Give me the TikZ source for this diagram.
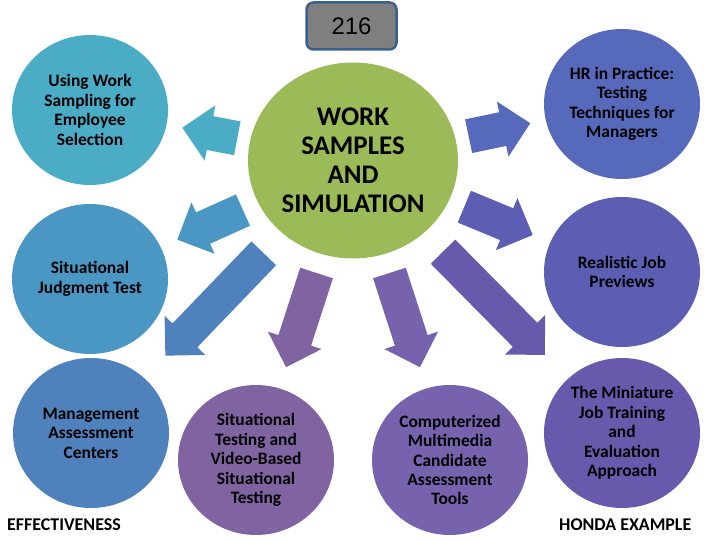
\documentclass[tikz,border=0pt]{standalone}
\usepackage{fontspec}
\setmainfont{Carlito}
\newfontfamily\numfont{Liberation Sans}
\usetikzlibrary{shapes.geometric,shapes.arrows}

\definecolor{hubgreen}{HTML}{9BBB59}
\definecolor{colA}{HTML}{4BACC6}
\definecolor{colB}{HTML}{4A97C4}
\definecolor{colC}{HTML}{4F81BD}
\definecolor{colD}{HTML}{8064A2}
\definecolor{colE}{HTML}{7662AD}
\definecolor{colF}{HTML}{6859AD}
\definecolor{colG}{HTML}{5B5EB3}
\definecolor{colH}{HTML}{5669BB}
\definecolor{numgray}{HTML}{7F7F7F}
\definecolor{numedge}{HTML}{3B5E8C}

\tikzset{
  topic/.style={ellipse, minimum width=156bp, minimum height=150bp, inner sep=0pt,
    align=center, font=\fontsize{17.5}{19.5}\selectfont\bfseries},
  hubnode/.style={ellipse, fill=hubgreen, minimum width=210bp, minimum height=196bp,
    inner sep=0pt, align=center, font=\fontsize{27}{29}\selectfont\bfseries},
  blockarrow/.style={single arrow, single arrow head extend=11bp, minimum width=0pt,
    inner xsep=0pt, inner ysep=17bp, sloped, allow upside down, anchor=tip},
  footnote/.style={inner sep=0pt, font=\fontsize{18}{20}\selectfont\bfseries}
}

\begin{document}
\begin{tikzpicture}[x=1bp,y=-1bp]
  \useasboundingbox (0,0) rectangle (720,540);

  \node[draw=numedge, line width=2.5bp, fill=numgray, rounded corners=7bp,
        minimum width=90bp, minimum height=47bp, font=\numfont\fontsize{24}{26}\selectfont]
        (num) at (351.5,26) {216};

  \node[hubnode]             (hub) at (353,160.5) {WORK\\SAMPLES\\AND\\SIMULATION};

  \node[topic, fill=colA]    (c1)  at (90,110)  {Using Work\\Sampling for\\Employee\\Selection};
  \node[topic, fill=colB]    (c2)  at (90,279)  {Situational\\Judgment Test};
  \node[topic, fill=colC]    (c3)  at (91,433)  {Management\\Assessment\\Centers};
  \node[topic, fill=colD]    (c4)  at (256,460) {Situational\\Testing and\\Video-Based\\Situational\\Testing};
  \node[topic, fill=colE]    (c5)  at (450,460) {Computerized\\Multimedia\\Candidate\\Assessment\\Tools};
  \node[topic, fill=colF]    (c6)  at (622,433) {The Miniature\\Job Training\\and\\Evaluation\\Approach};
  \node[topic, fill=colG]    (c7)  at (622,272) {Realistic Job\\Previews};
  \node[topic, fill=colH]    (c8)  at (622,104) {HR in Practice:\\Testing\\Techniques for\\Managers};

  \node[footnote, anchor=west] (eff)   at (7,525)   {EFFECTIVENESS};
  \node[footnote, anchor=west] (honda) at (559,525) {HONDA EXAMPLE};

  \path (hub.center) -- node[blockarrow, pos=.65,  minimum height=56bp,  fill=colA] (a1) {} (c1.center);
  \path (hub.center) -- node[blockarrow, pos=.669, minimum height=72bp,  fill=colB] (a2) {} (c2.center);
  \path (hub.center) -- node[blockarrow, pos=.717, minimum height=142bp, fill=colC] (a3) {} (c3.center);
  \path (hub.center) -- node[blockarrow, pos=.691, minimum height=99bp,  fill=colD] (a4) {} (c4.center);
  \path (hub.center) -- node[blockarrow, pos=.691, minimum height=99bp,  fill=colE] (a5) {} (c5.center);
  \path (hub.center) -- node[blockarrow, pos=.714, minimum height=145bp, fill=colF] (a6) {} (c6.center);
  \path (hub.center) -- node[blockarrow, pos=.669, minimum height=74bp,  fill=colG] (a7) {} (c7.center);
  \path (hub.center) -- node[blockarrow, pos=.66,  minimum height=63bp,  fill=colH] (a8) {} (c8.center);
\end{tikzpicture}
\end{document}
